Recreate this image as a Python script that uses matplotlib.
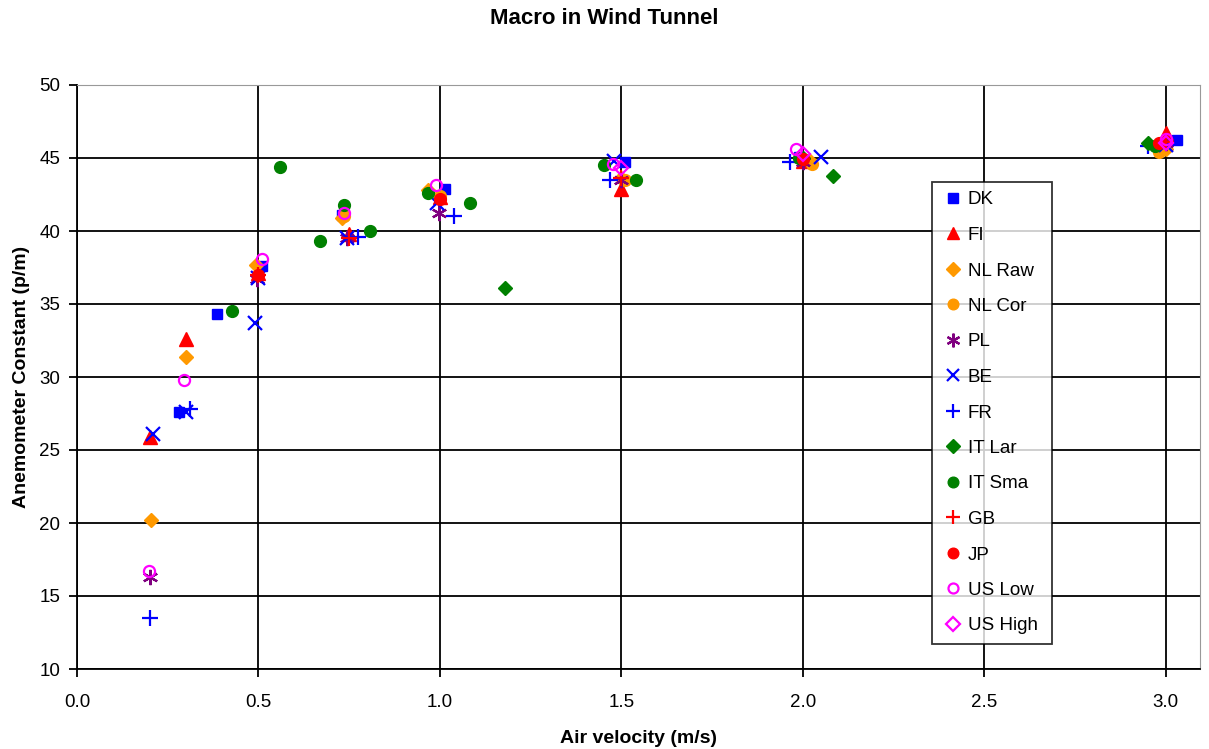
import matplotlib
matplotlib.use("Agg")
import matplotlib.pyplot as plt

plt.rcParams['font.family'] = ['Liberation Sans', 'DejaVu Sans']

# Air velocity (m/s) and anemometer constant (p/m) for each laboratory
dk_x = [0.28, 0.385, 0.51, 0.73, 1.014, 1.51, 1.99, 3.03]
dk_y = [27.6, 34.3, 37.6, 41.1, 42.85, 44.75, 45.1, 46.25]

fi_x = [0.2, 0.3, 0.5, 0.75, 1.0, 1.5, 2.0, 3.0]
fi_y = [25.9, 32.6, 37.1, 39.8, 42.3, 42.9, 44.8, 46.7]

nlraw_x = [0.203, 0.3, 0.493, 0.73, 0.968, 1.5, 2.02, 3.0]
nlraw_y = [20.2, 31.4, 37.7, 40.9, 42.8, 43.6, 44.8, 45.6]

nlcor_x = [0.735, 1.0, 1.51, 2.024, 2.98]
nlcor_y = [41.0, 42.4, 43.5, 44.6, 45.4]

pl_x = [0.2, 0.495, 0.745, 0.997, 1.5, 2.0, 3.0]
pl_y = [16.3, 36.7, 39.5, 41.2, 43.5, 44.7, 46.0]

be_x = [0.21, 0.3, 0.49, 0.5, 0.745, 0.993, 1.48, 2.05, 3.0]
be_y = [26.1, 27.6, 33.7, 36.8, 39.5, 41.9, 44.8, 45.1, 45.9]

fr_x = [0.2, 0.31, 0.775, 1.04, 1.468, 1.964, 2.95]
fr_y = [13.5, 27.8, 39.6, 41.0, 43.5, 44.7, 45.8]

itlar_x = [1.18, 2.0, 2.084, 2.95]
itlar_y = [36.1, 45.0, 43.8, 46.0]

itsma_x = [0.427, 0.559, 0.67, 0.735, 0.807, 0.968, 1.083, 1.452, 1.54, 1.99, 2.97]
itsma_y = [34.5, 44.4, 39.3, 41.8, 40.0, 42.6, 41.9, 44.55, 43.5, 45.0, 45.8]

gb_x = [0.5, 0.75, 1.5, 3.0]
gb_y = [37.0, 39.5, 43.6, 46.1]

jp_x = [0.5, 1.0, 2.0, 2.98]
jp_y = [37.0, 42.2, 44.9, 46.0]

uslow_x = [0.197, 0.295, 0.51, 0.735, 0.99, 1.477, 1.98, 3.0]
uslow_y = [16.7, 29.8, 38.1, 41.25, 43.15, 44.6, 45.65, 46.3]

ushigh_x = [1.5, 2.0, 3.0]
ushigh_y = [44.3, 45.3, 46.0]

fig = plt.figure(figsize=(12.09, 7.49), dpi=100)
ax = fig.add_axes([77 / 1209, 1 - 669 / 749, (1200 - 77) / 1209, (669 - 85) / 749])

blue = '#0000FF'
red = '#FF0000'
orange = '#FF9900'
purple = '#800080'
green = '#008000'
magenta = '#FF00FF'

series = [
    ('DK', dk_x, dk_y, dict(marker='s', color=blue, ms=7.5, mfc=blue, mec=blue)),
    ('FI', fi_x, fi_y, dict(marker='^', color=red, ms=9.5, mfc=red, mec=red)),
    ('NL Raw', nlraw_x, nlraw_y, dict(marker='D', color=orange, ms=7.5, mfc=orange, mec=orange)),
    ('NL Cor', nlcor_x, nlcor_y, dict(marker='o', color=orange, ms=8.5, mfc=orange, mec=orange)),
    ('PL', pl_x, pl_y, dict(marker=(6, 2, 0), color=purple, ms=11, mew=1.6)),
    ('BE', be_x, be_y, dict(marker='x', color=blue, ms=9.5, mew=1.6)),
    ('FR', fr_x, fr_y, dict(marker='+', color=blue, ms=11, mew=1.6)),
    ('IT Lar', itlar_x, itlar_y, dict(marker='D', color=green, ms=7.5, mfc=green, mec=green)),
    ('IT Sma', itsma_x, itsma_y, dict(marker='o', color=green, ms=8.5, mfc=green, mec=green)),
    ('GB', gb_x, gb_y, dict(marker='+', color=red, ms=11, mew=1.6)),
    ('JP', jp_x, jp_y, dict(marker='o', color=red, ms=8.5, mfc=red, mec=red)),
    ('US Low', uslow_x, uslow_y, dict(marker='o', color=magenta, ms=8, mfc='none', mec=magenta, mew=1.6)),
    ('US High', ushigh_x, ushigh_y, dict(marker='D', color=magenta, ms=7.5, mfc='none', mec=magenta, mew=1.6)),
]

for name, xs, ys, style in series:
    ax.plot(xs, ys, linestyle='none', label=name, zorder=3, **style)

ax.set_xlim(0, 3.094)
ax.set_ylim(10, 50)
ax.set_xticks([0.0, 0.5, 1.0, 1.5, 2.0, 2.5, 3.0])
ax.set_xticklabels(['0.0', '0.5', '1.0', '1.5', '2.0', '2.5', '3.0'])
ax.set_yticks([10, 15, 20, 25, 30, 35, 40, 45, 50])

ax.grid(True, color='black', linewidth=1.3, zorder=1)
ax.set_axisbelow(True)

ax.spines['left'].set_color('black')
ax.spines['bottom'].set_color('black')
ax.spines['left'].set_linewidth(1.3)
ax.spines['bottom'].set_linewidth(1.3)
ax.spines['top'].set_color('#999999')
ax.spines['right'].set_color('#999999')

ax.tick_params(axis='both', direction='out', length=6, width=1.3, labelsize=13.5, colors='black')
ax.tick_params(axis='x', pad=12)
ax.tick_params(axis='y', pad=6)

ax.set_xlabel('Air velocity (m/s)', fontsize=14, fontweight='bold', labelpad=14)
ax.set_ylabel('Anemometer Constant (p/m)', fontsize=14, fontweight='bold', labelpad=7)
fig.text(0.5, 1 - 19 / 749, 'Macro in Wind Tunnel', ha='center', va='center',
         fontsize=16, fontweight='bold')

leg = ax.legend(loc='upper left',
                bbox_to_anchor=(932 / 1209, (749 - 645) / 749, 120 / 1209, 463 / 749),
                bbox_transform=fig.transFigure, mode='expand', frameon=True, fancybox=False,
                edgecolor='black', fontsize=13.5, labelspacing=0.98,
                handlelength=1.2, handletextpad=0.2, borderpad=0.5,
                borderaxespad=0, markerscale=0.9)
leg.get_frame().set_linewidth(1.3)
leg.set_zorder(5)

fig.savefig('out.png', dpi=100)
